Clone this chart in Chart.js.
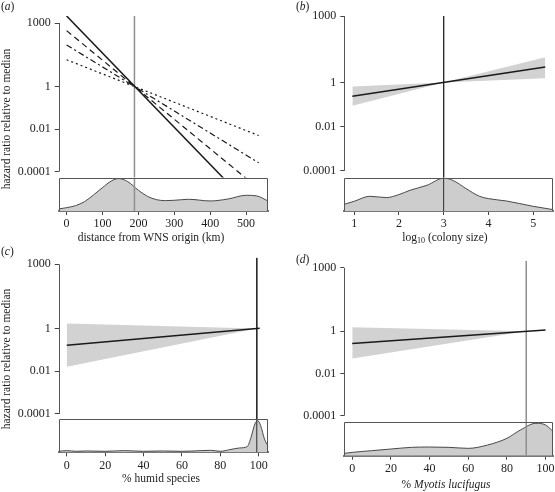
<!DOCTYPE html>
<html>
<head>
<meta charset="utf-8">
<script src="https://cdn.jsdelivr.net/npm/chart.js@4.4.1/dist/chart.umd.min.js"></script>
<style>
  body { margin: 0; background: #fff; }
  #wrap { position: relative; width: 555px; height: 492px; font-family: "Liberation Serif", "DejaVu Serif", serif; color: #222; }
  canvas { position: absolute; }
  .txt { position: absolute; font-size: 11.5px; line-height: 1; white-space: nowrap; transform: translate(-50%, -50%); }
  .rot { transform: translate(-50%, -50%) rotate(-90deg); }
  .pl { position: absolute; font-size: 11.5px; line-height: 1; }
  sub { font-size: 8px; vertical-align: -2px; line-height: 0; }
</style>
</head>
<body>
<div id="wrap">
  <canvas id="ca" width="277" height="246" style="left:0;top:0"></canvas>
  <canvas id="cb" width="278" height="246" style="left:277px;top:0"></canvas>
  <canvas id="cc" width="277" height="246" style="left:0;top:246px"></canvas>
  <canvas id="cd" width="278" height="246" style="left:277px;top:246px"></canvas>

  <div class="pl" style="left:1px;top:1px">(<i>a</i>)</div>
  <div class="pl" style="left:296px;top:1px">(<i>b</i>)</div>
  <div class="pl" style="left:1px;top:246px">(<i>c</i>)</div>
  <div class="pl" style="left:296px;top:254px">(<i>d</i>)</div>

  <div class="txt rot" style="left:7px;top:119px">hazard ratio relative to median</div>
  <div class="txt rot" style="left:7px;top:359px">hazard ratio relative to median</div>
  <div class="txt" style="left:151px;top:238px">distance from WNS origin (km)</div>
  <div class="txt" style="left:445px;top:238px">log<sub>10</sub> (colony size)</div>
  <div class="txt" style="left:161px;top:479px">% humid species</div>
  <div class="txt" style="left:446px;top:485px">% <i>Myotis lucifugus</i></div>
</div>
<script>
// shared y axis
const yTicks = [1000, 1, 0.01, 0.0001];
const yTickLabels = ['1000', '1', '0.01', '0.0001'];

// (a) distance from WNS origin
const aTicks = [0, 100, 200, 300, 400, 500];
const aMedian = 189;
const aSolidX = [0, 450];
const aSolidY = [2150, 2.9e-5];
const aDashX = [0, 510];
const aDashY = [437, 3.5e-5];
const aDashDotX = [0, 535];
const aDashDotY = [93, 2.6e-4];
const aDotX = [0, 535];
const aDotY = [18.6, 5e-3];
const aDensX = [-22, 0, 25, 50, 75, 100, 125, 145, 170, 200, 225, 250, 275, 300, 340, 400, 450, 500, 530, 561];
const aDensY = [0.06, 0.1, 0.16, 0.28, 0.48, 0.7, 0.9, 0.97, 0.88, 0.62, 0.44, 0.34, 0.31, 0.32, 0.35, 0.3, 0.36, 0.47, 0.45, 0.3];

// (b) log10 colony size
const bTicks = [1, 2, 3, 4, 5];
const bMedian = 3;
const bLineX = [0.96, 5.27];
const bLineY = [0.234, 4.9];
const bBandX = [0.96, 3, 5.27];
const bUpper = [0.66, 1, 13.8];
const bLower = [0.089, 1, 1.55];
const bDensX = [0.78, 1, 1.35, 1.72, 2, 2.25, 2.63, 3, 3.2, 3.5, 3.8, 4, 4.4, 5, 5.45];
const bDensY = [0.2, 0.29, 0.44, 0.4, 0.49, 0.62, 0.77, 0.98, 0.92, 0.67, 0.44, 0.37, 0.3, 0.14, 0.04];

// (c) % humid species
const cTicks = [0, 20, 40, 60, 80, 100];
const cMedian = 99;
const cLineX = [0, 100.5];
const cLineY = [0.166, 1.02];
const cBandX = [0, 99];
const cUpper = [1.7, 1];
const cLower = [0.016, 1];
const cDensX = [-4.2, 0, 5, 10, 20, 30, 40, 50, 60, 70, 75, 80, 85, 90, 94, 96, 98, 99.5, 101, 103, 105];
const cDensY = [0.03, 0.05, 0.03, 0.04, 0.03, 0.05, 0.03, 0.04, 0.03, 0.05, 0.06, 0.03, 0.08, 0.13, 0.17, 0.45, 0.85, 0.95, 0.8, 0.4, 0.17];

// (d) % Myotis lucifugus
const dTicks = [0, 20, 40, 60, 80, 100];
const dMedian = 90;
const dLineX = [0, 100];
const dLineY = [0.263, 1.15];
const dBandX = [0, 90];
const dUpper = [1.55, 1];
const dLower = [0.051, 1];
const dDensX = [-4.1, 0, 10, 20, 30.7, 40, 50, 60, 70, 80, 87, 95, 100, 104];
const dDensY = [0.07, 0.1, 0.15, 0.2, 0.25, 0.26, 0.25, 0.22, 0.32, 0.52, 0.77, 0.97, 0.92, 0.72];

const FONT = { family: '"Liberation Serif", "DejaVu Serif", serif', size: 12 };
const pts = (xs, ys) => xs.map((x, i) => ({ x: x, y: ys[i] }));

// y axis line from first to last tick + frame round the density strip
const framePlugin = {
  id: 'frame',
  afterDatasetsDraw(chart) {
    const { ctx, scales: { x, y, y2 } } = chart;
    ctx.save();
    ctx.strokeStyle = '#555';
    ctx.lineWidth = 1;
    const xl = Math.round(y.right) + 0.5;
    ctx.beginPath();
    ctx.moveTo(xl, y.getPixelForValue(yTicks[0]));
    ctx.lineTo(xl, y.getPixelForValue(yTicks[yTicks.length - 1]));
    ctx.stroke();
    const t = Math.round(y2.top) + 0.5;
    ctx.beginPath();
    ctx.moveTo(xl, y2.bottom);
    ctx.lineTo(xl, t);
    ctx.lineTo(Math.round(x.right) - 0.5, t);
    ctx.lineTo(Math.round(x.right) - 0.5, y2.bottom);
    ctx.stroke();
    ctx.restore();
  }
};

function line(data, opts) {
  return Object.assign({
    data: data, yAxisID: 'y', borderColor: '#1a1a1a', borderWidth: 1.2,
    pointRadius: 0, fill: false, tension: 0
  }, opts);
}

function panel(id, p) {
  const lo = p.yMin, hi = p.yMax;
  const datasets = p.lines.concat([
    line([{ x: p.median, y: hi }, { x: p.median, y: lo }], { borderColor: p.medColor, borderWidth: p.medWidth }),
    line([{ x: p.median, y: 0 }, { x: p.median, y: 1 }], { yAxisID: 'y2', borderColor: p.medColor, borderWidth: p.medWidth })
  ]);
  if (p.bandX) {
    datasets.push(line(pts(p.bandX, p.upper), { borderWidth: 0, borderColor: 'rgba(0,0,0,0)', backgroundColor: '#d2d2d2', fill: '+1' }));
    datasets.push(line(pts(p.bandX, p.lower), { borderWidth: 0, borderColor: 'rgba(0,0,0,0)' }));
  }
  datasets.push(line(pts(p.densX, p.densY), {
    yAxisID: 'y2', borderColor: '#4a4a4a', borderWidth: 1, backgroundColor: '#cdcdcd',
    fill: 'origin', cubicInterpolationMode: 'monotone'
  }));

  new Chart(document.getElementById(id), {
    type: 'line',
    data: { datasets: datasets },
    options: {
      responsive: false,
      animation: false,
      events: [],
      layout: { padding: { left: 0, right: p.padRight, top: p.padTop, bottom: 0 } },
      plugins: { legend: { display: false }, tooltip: { enabled: false } },
      scales: {
        // density strip declared first so that it stacks below the hazard axis
        y2: {
          type: 'linear', position: 'left', stack: 'p', stackWeight: 33.4,
          min: 0, max: 1,
          ticks: { display: false },
          grid: { display: false },
          border: { display: false },
          afterFit: s => { s.width = p.left; }
        },
        y: {
          type: 'logarithmic', position: 'left', stack: 'p', stackWeight: 161.3,
          min: lo, max: hi,
          afterBuildTicks: s => { s.ticks = yTicks.map(v => ({ value: v })); },
          ticks: { font: FONT, color: '#222', padding: 4, callback: v => yTickLabels[yTicks.indexOf(v)] },
          grid: { drawOnChartArea: false, drawTicks: true, tickLength: 4, color: '#444' },
          border: { display: false },
          afterFit: s => { s.width = p.left; s.paddingTop = 0; s.paddingBottom = 0; }
        },
        x: {
          type: 'linear', min: p.xMin, max: p.xMax,
          afterBuildTicks: s => { s.ticks = p.xTicks.map(v => ({ value: v })); },
          ticks: { font: FONT, color: '#222', padding: 2, maxRotation: 0, autoSkip: false },
          grid: { drawOnChartArea: false, drawTicks: true, tickLength: 4, color: '#444' },
          border: { display: true, color: '#777', width: 2 },
          afterFit: s => { s.height = p.xHeight; s.paddingLeft = 0; s.paddingRight = 0; }
        }
      }
    },
    plugins: [framePlugin]
  });
}

panel('ca', {
  left: 58.7, padRight: 9, padTop: 16, xHeight: 35,
  xMin: -22, xMax: 561, xTicks: aTicks,
  yMin: Math.pow(10, -4.28), yMax: Math.pow(10, 3.33),
  median: aMedian, medColor: '#8f8f8f', medWidth: 1.5,
  lines: [
    line(pts(aSolidX, aSolidY), { borderWidth: 1.5 }),
    line(pts(aDashX, aDashY), { borderDash: [6, 4] }),
    line(pts(aDashDotX, aDashDotY), { borderDash: [6, 3, 2, 3] }),
    line(pts(aDotX, aDotY), { borderDash: [2, 3] })
  ],
  densX: aDensX, densY: aDensY
});

panel('cb', {
  left: 67.3, padRight: 1.7, padTop: 16, xHeight: 35,
  xMin: 0.78, xMax: 5.45, xTicks: bTicks,
  yMin: Math.pow(10, -4.3), yMax: 1000,
  median: bMedian, medColor: '#2a2a2a', medWidth: 1,
  lines: [line(pts(bLineX, bLineY), { borderWidth: 1.5 })],
  bandX: bBandX, upper: bUpper, lower: bLower,
  densX: bDensX, densY: bDensY
});

panel('cc', {
  left: 58.7, padRight: 8.7, padTop: 11.7, xHeight: 39.7,
  xMin: -4.2, xMax: 105, xTicks: cTicks,
  yMin: Math.pow(10, -4.23), yMax: Math.pow(10, 3.31),
  median: cMedian, medColor: '#2a2a2a', medWidth: 1,
  lines: [line(pts(cLineX, cLineY), { borderWidth: 1.5 })],
  bandX: cBandX, upper: cUpper, lower: cLower,
  densX: cDensX, densY: cDensY
});

panel('cd', {
  left: 67.3, padRight: 1.7, padTop: 15, xHeight: 36.3,
  xMin: -4.1, xMax: 104, xTicks: dTicks,
  yMin: Math.pow(10, -4.31), yMax: Math.pow(10, 3.32),
  median: dMedian, medColor: '#8f8f8f', medWidth: 1.5,
  lines: [line(pts(dLineX, dLineY), { borderWidth: 1.5 })],
  bandX: dBandX, upper: dUpper, lower: dLower,
  densX: dDensX, densY: dDensY
});
</script>
</body>
</html>
